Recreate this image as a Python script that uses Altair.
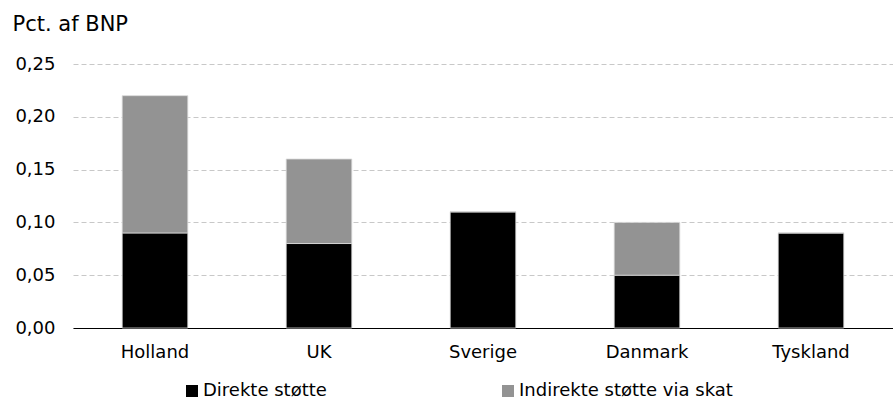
import altair as alt
import pandas as pd

# Support as share of GDP, split into direct support and indirect support via tax
countries = ["Holland", "UK", "Sverige", "Danmark", "Tyskland"]
direkte = [0.09, 0.08, 0.11, 0.05, 0.09]
indirekte = [0.13, 0.08, 0.00, 0.05, 0.00]
series = ["Direkte støtte", "Indirekte støtte via skat"]
colors = ["#000000", "#939393"]

rows = []
for c, d, i in zip(countries, direkte, indirekte):
    rows.append({"land": c, "serie": series[0], "værdi": d, "rk": 0})
    rows.append({"land": c, "serie": series[1], "værdi": i, "rk": 1})
df = pd.DataFrame(rows)

FONT = "DejaVu Sans"

chart = (
    alt.Chart(df)
    .mark_bar(stroke="#d9d9d9", strokeWidth=0.8)
    .encode(
        x=alt.X(
            "land:N",
            sort=countries,
            scale=alt.Scale(paddingInner=0.6, paddingOuter=0.3),
            axis=alt.Axis(
                title=None,
                labelAngle=0,
                labelFontSize=18,
                labelPadding=15,
                labelColor="#000000",
                ticks=False,
                domainColor="#000000",
                domainWidth=1.2,
            ),
        ),
        y=alt.Y(
            "værdi:Q",
            stack="zero",
            scale=alt.Scale(domain=[0, 0.25]),
            axis=alt.Axis(
                values=[0, 0.05, 0.10, 0.15, 0.20, 0.25],
                labelExpr="replace(format(datum.value, '.2f'), '.', ',')",
                labelFontSize=18,
                labelPadding=18,
                labelColor="#000000",
                ticks=False,
                domain=False,
                gridColor="#c8c8c8",
                gridDash=[5, 3],
                gridWidth=1,
                title="Pct. af BNP",
                titleAngle=0,
                titleAlign="left",
                titleBaseline="alphabetic",
                titleX=-61,
                titleY=-34,
                titleFontSize=21,
                titleFontWeight="normal",
                titleColor="#000000",
            ),
        ),
        color=alt.Color(
            "serie:N",
            sort=series,
            scale=alt.Scale(domain=series, range=colors),
            legend=alt.Legend(
                title=None,
                orient="none",
                direction="horizontal",
                legendX=110,
                legendY=318,
                symbolType="square",
                symbolSize=144,
                symbolStrokeWidth=0,
                labelFontSize=18,
                labelOffset=2,
                labelLimit=400,
                columnPadding=172,
                labelColor="#000000",
            ),
        ),
        order=alt.Order("rk:Q", sort="ascending"),
    )
    .properties(
        width=820,
        height=264,
        padding={"left": 73, "top": 64, "right": 0, "bottom": 71},
        autosize=alt.AutoSizeParams(type="none"),
    )
    .configure(font=FONT)
    .configure_view(stroke=None)
)

chart.save("out.html", embed_options={"renderer": "svg", "actions": False})
